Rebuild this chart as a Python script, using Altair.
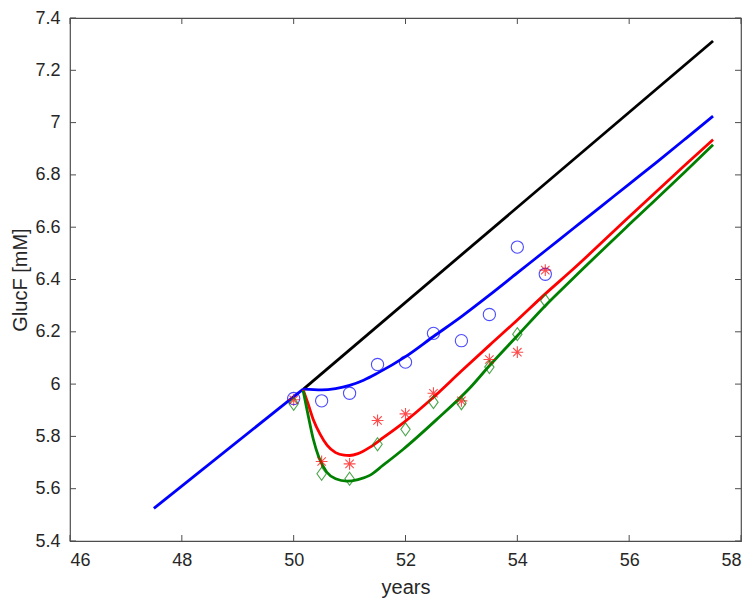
import altair as alt
import pandas as pd

# ---- data ----
black_x = [50.17, 57.5]
black_y = [5.98, 7.312]

blue_low_x = [47.5, 50.17]
blue_low_y = [5.525, 5.981]

blue_x = [50.17, 50.5, 50.75, 51.0, 51.25, 51.5, 52.0, 52.5, 53.0, 53.5, 54.0, 54.5, 55.0, 55.5, 56.0, 56.5, 57.0, 57.5]
blue_y = [5.981, 5.978, 5.983, 5.995, 6.015, 6.042, 6.105, 6.182, 6.258, 6.34, 6.425, 6.51, 6.595, 6.68, 6.765, 6.85, 6.937, 7.025]

red_x = [50.17, 50.25, 50.35, 50.47, 50.6, 50.75, 50.9, 51.0, 51.15, 51.36, 51.6, 51.96, 52.5, 53.0, 53.5, 54.0, 54.5, 55.0, 56.0, 57.0, 57.5]
red_y = [5.978, 5.93, 5.865, 5.81, 5.766, 5.738, 5.728, 5.727, 5.734, 5.758, 5.795, 5.852, 5.95, 6.05, 6.148, 6.245, 6.345, 6.44, 6.64, 6.838, 6.935]

green_x = [50.17, 50.25, 50.35, 50.45, 50.59, 50.75, 50.95, 51.15, 51.36, 51.6, 51.96, 52.56, 53.15, 53.5, 54.0, 54.5, 55.0, 56.0, 57.0, 57.5]
green_y = [5.975, 5.89, 5.79, 5.72, 5.664, 5.638, 5.629, 5.635, 5.651, 5.69, 5.751, 5.865, 5.985, 6.07, 6.185, 6.30, 6.405, 6.61, 6.812, 6.915]

obs_x = [50, 50.5, 51, 51.5, 52, 52.5, 53, 53.5, 54, 54.5]
circle_y = [5.945, 5.936, 5.965, 6.075, 6.084, 6.194, 6.166, 6.266, 6.524, 6.42]
star_y = [5.94, 5.704, 5.695, 5.861, 5.886, 5.965, 5.936, 6.094, 6.122, 6.436]
diamond_y = [5.925, 5.657, 5.638, 5.77, 5.827, 5.931, 5.927, 6.065, 6.191, 6.319]

x_ticks = [46, 48, 50, 52, 54, 56, 58]
y_ticks = [5.4, 5.6, 5.8, 6.0, 6.2, 6.4, 6.6, 6.8, 7.0, 7.2, 7.4]

series_names = ["black", "blue", "red", "green"]
series_colors = ["#000000", "#0000ff", "#ff0000", "#008000"]

# ---- tables ----
rows = []
for name, seg, xs, ys in [("black", "k", black_x, black_y),
                          ("blue", "b0", blue_low_x, blue_low_y),
                          ("blue", "b1", blue_x, blue_y),
                          ("red", "r", red_x, red_y),
                          ("green", "g", green_x, green_y)]:
    for i, (a, b) in enumerate(zip(xs, ys)):
        rows.append({"series": name, "seg": seg, "x": a, "y": b, "i": i})
lines_df = pd.DataFrame(rows)

obs_df = pd.DataFrame({"x": obs_x, "c": circle_y, "s": star_y, "d": diamond_y})
xt_df = pd.DataFrame({"v": x_ticks})
yt_df = pd.DataFrame({"v": y_ticks})

TOP = 10
W, H = 671, 533 - TOP
AX = "#4d4d4d"
FONT = "Liberation Sans"

xscale = alt.Scale(domain=[46, 58], nice=False, zero=False)
yscale = alt.Scale(domain=[5.4, 7.4], nice=False, zero=False)

xaxis = alt.Axis(values=x_ticks, format="d", title="years", grid=False, ticks=False,
                 tickSize=0, domain=False, labelFont=FONT, labelFontSize=18,
                 labelColor="#262626", labelPadding=10, titleFont=FONT, titleFontSize=20,
                 titleFontWeight="normal", titleColor="#262626", titlePadding=8)
yaxis = alt.Axis(values=y_ticks, format=".2~f", title="GlucF [mM]", grid=False, ticks=False,
                 tickSize=0, domain=False, labelFont=FONT, labelFontSize=18,
                 labelColor="#262626", labelPadding=10, titleFont=FONT, titleFontSize=20,
                 titleFontWeight="normal", titleColor="#262626", titlePadding=4)

lines = alt.Chart(lines_df).mark_line(strokeWidth=2.8, interpolate="monotone").encode(
    x=alt.X("x:Q", scale=xscale, axis=xaxis),
    y=alt.Y("y:Q", scale=yscale, axis=yaxis),
    color=alt.Color("series:N", scale=alt.Scale(domain=series_names, range=series_colors), legend=None),
    detail="seg:N",
    order="i:Q",
)

circles = alt.Chart(obs_df).mark_point(shape="circle", filled=False, size=150,
                                       strokeWidth=1.1, color="#0000ff").encode(
    x=alt.X("x:Q", scale=xscale), y=alt.Y("c:Q", scale=yscale))

star_path = "M-1,0L1,0M0,-1L0,1M-0.71,-0.71L0.71,0.71M-0.71,0.71L0.71,-0.71"
stars = alt.Chart(obs_df).mark_point(shape=star_path, filled=False, size=140,
                                     strokeWidth=1.1, color="#ff0000").encode(
    x=alt.X("x:Q", scale=xscale), y=alt.Y("s:Q", scale=yscale))

diamond_path = "M0,-1L0.72,0L0,1L-0.72,0Z"
diamonds = alt.Chart(obs_df).mark_point(shape=diamond_path, filled=False, size=169,
                                        strokeWidth=1.1, color="#008000").encode(
    x=alt.X("x:Q", scale=xscale), y=alt.Y("d:Q", scale=yscale))

TL = 6
tick_bottom = alt.Chart(xt_df).mark_rule(color=AX, strokeWidth=1).encode(
    x=alt.X("v:Q", scale=xscale), y=alt.value(H), y2=alt.value(H - TL))
tick_top = alt.Chart(xt_df).mark_rule(color=AX, strokeWidth=1).encode(
    x=alt.X("v:Q", scale=xscale), y=alt.value(0), y2=alt.value(TL))
tick_left = alt.Chart(yt_df).mark_rule(color=AX, strokeWidth=1).encode(
    y=alt.Y("v:Q", scale=yscale), x=alt.value(0), x2=alt.value(TL))
tick_right = alt.Chart(yt_df).mark_rule(color=AX, strokeWidth=1).encode(
    y=alt.Y("v:Q", scale=yscale), x=alt.value(W), x2=alt.value(W - TL))

chart = alt.layer(
    tick_bottom, tick_top, tick_left, tick_right,
    lines, circles, stars, diamonds,
).properties(
    width=W, height=H,
    autosize=alt.AutoSizeParams(type="none"),
    padding={"left": 62, "top": TOP, "right": 2, "bottom": 58},
    background="white",
).configure_view(
    stroke=AX, strokeWidth=1.2
)

chart.save("out.html", embed_options={"renderer": "svg", "actions": False})
